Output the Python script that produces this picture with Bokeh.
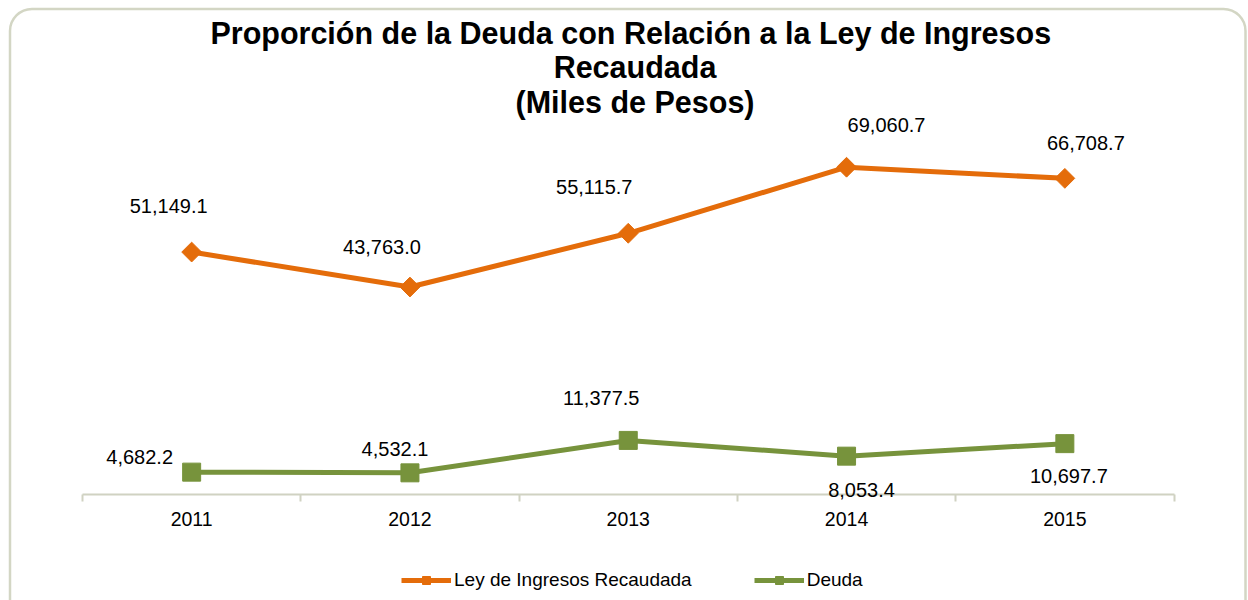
import math
from bokeh.plotting import figure
from bokeh.models import (ColumnDataSource, Range1d, LinearAxis, FixedTicker, Legend,
                          LegendItem, Label, BoxAnnotation)
from bokeh.core.properties import value
from bokeh.embed import file_html
from bokeh.resources import INLINE

# ---------------- data ----------------
years = ["2011", "2012", "2013", "2014", "2015"]
ley_ingresos = [51149.1, 43763.0, 55115.7, 69060.7, 66708.7]
deuda = [4682.2, 4532.1, 11377.5, 8053.4, 10697.7]
series_names = ["Ley de Ingresos Recaudada", "Deuda"]
title_lines = ["Proporción de la Deuda con Relación a la Ley de  Ingresos",
               "Recaudada",
               "(Miles de Pesos)"]

# ---------------- layout / style ----------------
W, H = 1248, 600
AXIS_LEFT_PX = 82.0       # left end of category axis
SLOT_PX = 218.3           # width of one category slot
ZERO_PX = 493.8           # pixel row of value 0 (axis line)
PX_PER_UNIT = 0.004736    # vertical pixels per unit

ley_dx = [-23, -28, -34, 40, 21]
ley_dy = [-46, -40, -46, -42, -35]
deuda_dx = [-52, -15, -27, 15, 4]
deuda_dy = [-15, -24, -42, 34, 32]

ORANGE = "#E46C0A"
GREEN = "#77933C"
AXIS = "#D0D2C2"
BORDER = "#D3D6C4"
FONT = "Liberation Sans"


def fmt(v):
    return f"{v:,.1f}"


n = len(years)
centres = [i + 0.5 for i in range(n)]
edges = list(range(n + 1))

src_ley = ColumnDataSource(dict(x=centres, y=ley_ingresos,
                                label=[fmt(v) for v in ley_ingresos], dx=ley_dx, dy=ley_dy))
src_deuda = ColumnDataSource(dict(x=centres, y=deuda,
                                  label=[fmt(v) for v in deuda], dx=deuda_dx, dy=deuda_dy))

x_range = Range1d(-AXIS_LEFT_PX / SLOT_PX, (W - AXIS_LEFT_PX) / SLOT_PX)
y_range = Range1d(-(H - ZERO_PX) / PX_PER_UNIT, ZERO_PX / PX_PER_UNIT)

p = figure(x_range=x_range, y_range=y_range,
           width=W, height=H, output_backend="svg", toolbar_location=None,
           title=None, x_axis_location=None, y_axis_location=None,
           min_border_left=0, min_border_right=0, min_border_top=0, min_border_bottom=0)
p.outline_line_color = None
p.grid.visible = False
p.background_fill_color = "white"
p.border_fill_color = "white"

# rounded outer border
p.add_layout(BoxAnnotation(left=9.5, right=1245, top=8.5, bottom=660,
                           left_units="canvas", right_units="canvas",
                           top_units="canvas", bottom_units="canvas",
                           fill_alpha=0, line_color=BORDER, line_alpha=1.0, line_width=2.5,
                           border_radius=22, level="overlay"))

# axes: tick marks at category boundaries, labels at centres (both sit on value 0)
tick_axis = LinearAxis(ticker=FixedTicker(ticks=edges), bounds=(0, n), fixed_location=0,
                       major_label_overrides={e: "" for e in edges},
                       major_label_text_font_size="0px", major_label_text_alpha=0,
                       major_label_standoff=0,
                       major_tick_in=0, major_tick_out=7, minor_tick_line_color=None,
                       axis_line_color=AXIS, axis_line_width=2,
                       major_tick_line_color=AXIS, major_tick_line_width=2,
                       level="underlay")
p.add_layout(tick_axis, "below")

cat_axis = LinearAxis(ticker=FixedTicker(ticks=centres), bounds=(0, n), fixed_location=0,
                      major_label_overrides={c: y for c, y in zip(centres, years)},
                      major_tick_line_color=None, minor_tick_line_color=None,
                      major_tick_in=0, major_tick_out=0,
                      axis_line_color=None, major_label_standoff=18,
                      major_label_text_font=FONT, major_label_text_font_size="19.5px",
                      major_label_text_color="#000000")
p.add_layout(cat_axis, "below")

# series
r1 = p.line("x", "y", source=src_ley, line_color=ORANGE, line_width=5)
r1m = p.scatter("x", "y", source=src_ley, marker="square", angle=math.pi / 4, size=14,
                fill_color=ORANGE, line_color=ORANGE)
r2 = p.line("x", "y", source=src_deuda, line_color=GREEN, line_width=5)
r2m = p.scatter("x", "y", source=src_deuda, marker="square", size=18,
                fill_color=GREEN, line_color=GREEN)

for src in (src_ley, src_deuda):
    p.text("x", "y", text="label", source=src, x_offset="dx", y_offset="dy",
           text_align="center", text_baseline="middle", text_font=value(FONT),
           text_font_size="20px", text_color="#000000")

# title
for i, line in enumerate(title_lines):
    p.add_layout(Label(x=634.5, y=H - 32 - 34.5 * i, x_units="screen", y_units="screen",
                       text=line, text_align="center", text_baseline="middle",
                       text_font=FONT, text_font_size="30.5px", text_font_style="bold",
                       text_color="#000000"))

legend = Legend(items=[LegendItem(label=series_names[0], renderers=[r1, r1m]),
                       LegendItem(label=series_names[1], renderers=[r2, r2m])],
                orientation="horizontal", location=(401, 9),
                glyph_width=50, glyph_height=20, label_standoff=3, spacing=62,
                padding=0, margin=0, border_line_color=None, background_fill_alpha=0,
                label_text_font=FONT, label_text_font_size="19px", label_height=20,
                label_text_color="#000000")
p.add_layout(legend, "center")

open("out.html", "w").write(file_html(p, INLINE))
